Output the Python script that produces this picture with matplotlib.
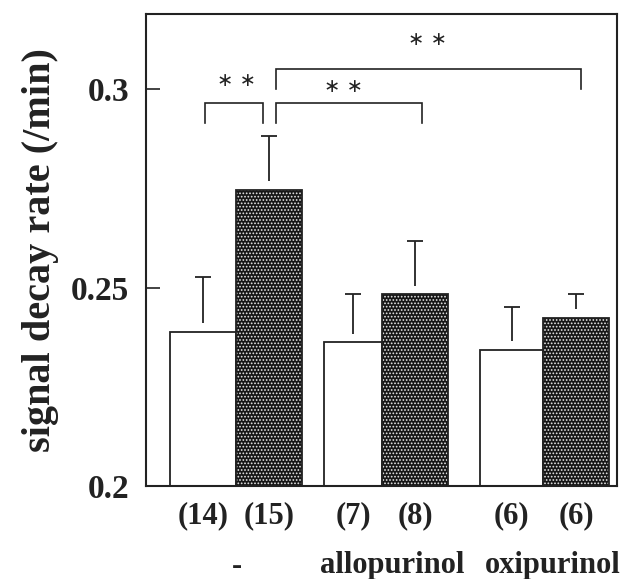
import matplotlib
matplotlib.use("Agg")
import matplotlib.pyplot as plt
from matplotlib.transforms import blended_transform_factory

# ---- data ----
groups = ["-", "allopurinol", "oxipurinol"]
control_mean = [0.2388, 0.2362, 0.2344]
control_err = [0.0138, 0.0122, 0.0108]
treated_mean = [0.2746, 0.2483, 0.2424]
treated_err = [0.0136, 0.0134, 0.0060]
control_n = ["(14)", "(7)", "(6)"]
treated_n = ["(15)", "(8)", "(6)"]
sig_label = "\u2217 \u2217"

# ---- layout (x in axis pixel units) ----
group_centers = [89.7, 236.3, 397.3]
control_width = [66, 58, 63]
treated_width = 66
gap = 0.0022
cap = 8
ink = "#222222"

plt.rcParams["font.family"] = ["Liberation Serif", "DejaVu Serif"]
plt.rcParams["font.weight"] = "bold"
plt.rcParams["hatch.linewidth"] = 0.8

fig = plt.figure(figsize=(6.23, 5.79), dpi=100)
ax = fig.add_axes([146 / 623, 1 - 486 / 579, 471 / 623, 472 / 579])

cx, tx = [], []
for i, gc in enumerate(group_centers):
    wc = control_width[i]
    c = gc - wc / 2
    t = gc + treated_width / 2
    cx.append(c)
    tx.append(t)
    ax.bar(c, control_mean[i] - 0.2, bottom=0.2, width=wc, facecolor="white",
           edgecolor=ink, linewidth=1.3, zorder=2)
    # stippled bar: dark fill with white dots
    ax.bar(t, treated_mean[i] - 0.2, bottom=0.2, width=treated_width,
           facecolor="#161616", edgecolor="#e8e8e8", hatch=".....", linewidth=0, zorder=2)
    ax.bar(t, treated_mean[i] - 0.2, bottom=0.2, width=treated_width,
           facecolor="none", edgecolor=ink, linewidth=1.3, zorder=3)
    for x, m, e in ((c, control_mean[i], control_err[i]), (t, treated_mean[i], treated_err[i])):
        ax.vlines(x, m + gap, m + e, color=ink, linewidth=1.3, zorder=3)
        ax.hlines(m + e, x - cap, x + cap, color=ink, linewidth=1.3, zorder=3)

# significance brackets
def bracket(x0, x1, y_lo, y_hi, sx, sy):
    ax.plot([x0, x0, x1, x1], [y_lo, y_hi, y_hi, y_lo], color=ink, linewidth=1.2,
            solid_joinstyle="miter", zorder=3, clip_on=False)
    ax.text(sx, sy, sig_label, ha="center", va="center", fontsize=14,
            family=["DejaVu Sans"], fontweight="normal", color=ink)

bracket(cx[0] + 2, tx[0] - 6, 0.2914, 0.2966, (cx[0] + tx[0]) / 2 + 1, 0.3022)
bracket(tx[0] + 7, tx[1] + 7, 0.2914, 0.2966, 198, 0.3008)
bracket(tx[0] + 7, tx[2] + 5, 0.3000, 0.3051, 281, 0.3125)

ax.set_xlim(0, 471)
ax.set_ylim(0.2, 0.319)
ax.set_yticks([0.2, 0.25, 0.3])
ax.set_yticklabels(["0.2", "0.25", "0.3"])
ax.tick_params(axis="y", direction="in", length=10, width=1.2, pad=12,
               labelsize=24, colors=ink)
ax.set_xticks(cx + tx)
ax.set_xticklabels(control_n + treated_n)
ax.tick_params(axis="x", length=0, pad=11, labelsize=22, colors=ink)
for s in ax.spines.values():
    s.set_linewidth(1.5)
    s.set_color(ink)

ax.set_ylabel("signal decay rate (/min)", fontsize=29, fontweight="bold",
              color=ink, labelpad=9)

trans = blended_transform_factory(ax.transData, fig.transFigure)
label_x = [group_centers[0] + 1, group_centers[1] + 10, group_centers[2] + 9]
for x, g in zip(label_x, groups):
    ax.text(x, 1 - 566 / 579, g, transform=trans, ha="center", va="center",
            fontsize=22, fontweight="bold", color=ink)

fig.savefig("out.png", dpi=100)
